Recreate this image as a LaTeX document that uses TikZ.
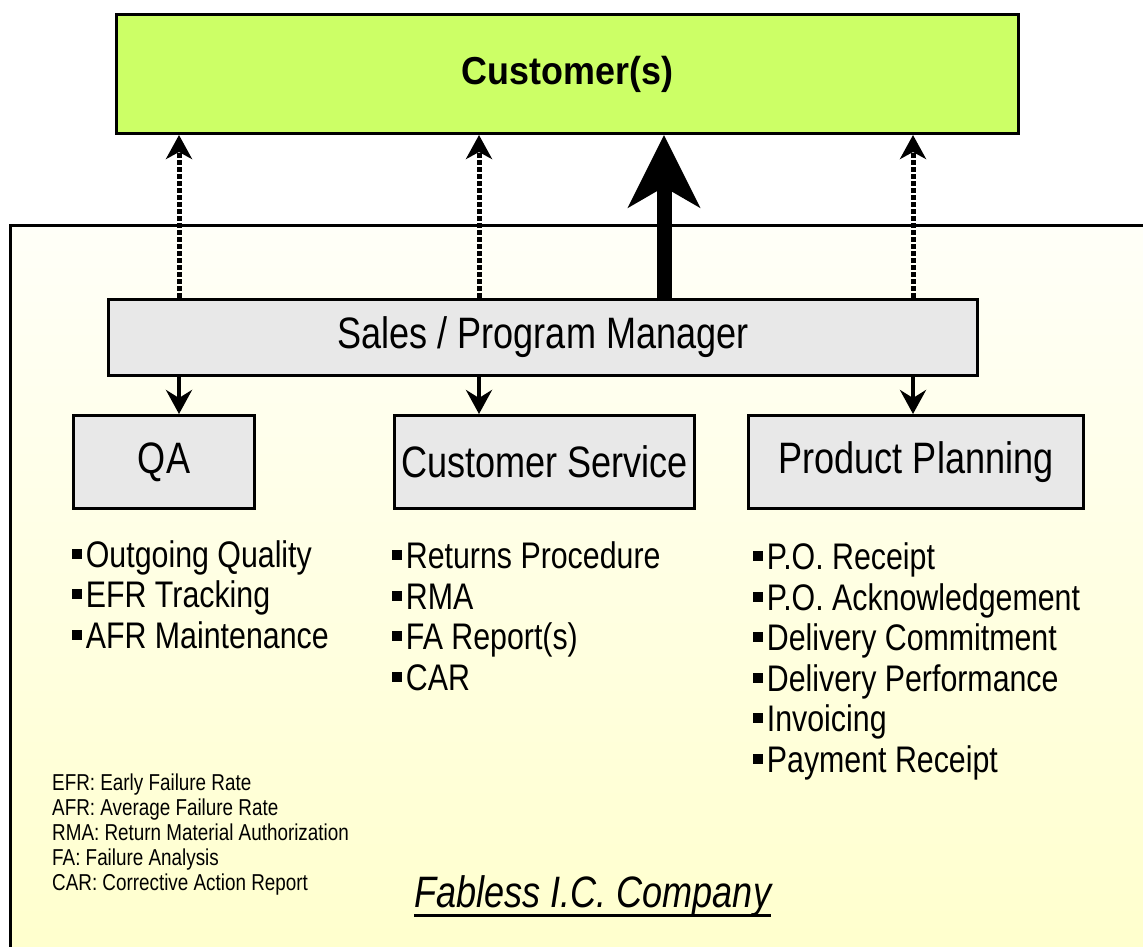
\documentclass[tikz,border=0pt]{standalone}
\usepackage{fontspec}
\setmainfont{Liberation Sans}[FakeStretch=0.82]
\newfontfamily\custfont{Liberation Sans}[FakeStretch=0.92]
\usetikzlibrary{arrows.meta}
\definecolor{custgreen}{HTML}{CCFF66}
\definecolor{boxgray}{HTML}{E8E8E8}
\definecolor{frametop}{HTML}{FFFFF8}
\definecolor{framebot}{HTML}{FFFFCC}
\newcommand{\bul}{\rule[0.22em]{0.27em}{0.27em}\hspace{0.1em}}
\begin{document}
\begin{tikzpicture}[x=1pt,y=-1pt,
  box/.style={draw=black, line width=3pt, fill=boxgray, anchor=north west, inner sep=0pt},
  boxtext/.style={font=\fontsize{44}{50}\selectfont},
  listtext/.style={anchor=base west, align=left, inner sep=0pt, font=\fontsize{37}{40.5}\selectfont},
  dotarr/.style={line width=5pt, dash pattern=on 5pt off 2pt, -{Stealth[length=24pt,width=26pt,inset=7pt]}},
  downarr/.style={line width=4.5pt, -{Stealth[length=24pt,width=26pt,inset=8pt]}},
  bigarr/.style={line width=15pt, -{Stealth[length=72pt,width=71pt,inset=20pt]}}
]
\useasboundingbox (0,0) rectangle (1143,946);
\clip (0,0) rectangle (1143,946);
% frame
\shade[top color=frametop, bottom color=framebot] (10,225) rectangle (1170,970);
\draw[line width=3pt] (10,970) -- (10,225) -- (1170,225);
% customer
\node[box, fill=custgreen, minimum width=902pt, minimum height=119pt, font=\custfont\bfseries\fontsize{39}{44}\selectfont] (cust) at (115,13) {Customer(s)};
% sales
\node[box, minimum width=869pt, minimum height=76pt, boxtext] (sales) at (107,298) {Sales / Program Manager};
% departments
\node[box, minimum width=181pt, minimum height=93pt, boxtext] (qa) at (72,414) {QA};
\node[box, minimum width=300pt, minimum height=93pt, boxtext] (cs) at (393,414) {Customer Service};
\node[box, minimum width=335pt, minimum height=93pt, boxtext] (pp) at (747,414) {Product Planning};
% arrows up
\draw[dotarr] (sales.north -| 179,0) -- (cust.south -| 179,0);
\draw[dotarr] (sales.north -| 479,0) -- (cust.south -| 479,0);
\draw[dotarr] (sales.north -| 913,0) -- (cust.south -| 913,0);
\draw[bigarr] ([yshift=-3pt]sales.north -| 664,0) -- (cust.south -| 664,0);
% arrows down
\draw[downarr] (sales.south -| 179,0) -- (qa.north -| 179,0);
\draw[downarr] (sales.south -| 479,0) -- (cs.north -| 479,0);
\draw[downarr] (sales.south -| 913,0) -- (pp.north -| 913,0);
% lists (base anchor = last line baseline)
\node[listtext] (qalist) at (72,648) {\bul Outgoing Quality\\\bul EFR Tracking\\\bul AFR Maintenance};
\node[listtext] (cslist) at (392,690) {\bul Returns Procedure\\\bul RMA\\\bul FA Report(s)\\\bul CAR};
\node[listtext] (pplist) at (753,772) {\bul P.O. Receipt\\\bul P.O. Acknowledgement\\\bul Delivery Commitment\\\bul Delivery Performance\\\bul Invoicing\\\bul Payment Receipt};
% legend
\node[anchor=base west, align=left, inner sep=0pt, font=\fontsize{23}{25}\selectfont] (legend) at (52,890) {EFR: Early Failure Rate\\AFR: Average Failure Rate\\RMA: Return Material Authorization\\FA: Failure Analysis\\CAR: Corrective Action Report};
% title
\node[anchor=base west, inner sep=0pt, font=\itshape\fontsize{44}{50}\selectfont] (title) at (414,907) {Fabless I.C. Company};
\draw[line width=3pt] ([yshift=-8pt]title.base west) -- ([yshift=-8pt]title.base east);
\end{tikzpicture}
\end{document}
